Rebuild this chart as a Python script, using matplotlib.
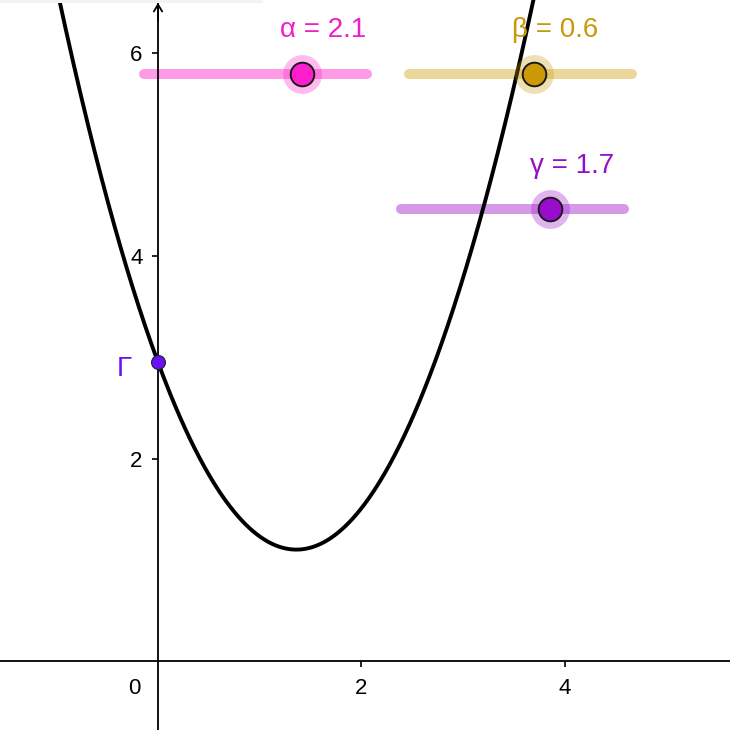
import matplotlib
matplotlib.use("Agg")
import matplotlib.pyplot as plt
from matplotlib.patches import Rectangle
import numpy as np

plt.rcParams['font.family'] = ['Liberation Sans', 'DejaVu Sans']

# parabola y = a*x^2 + b*x + c
curve_coeffs = [1.0, -2.72, 2.95]

# sliders: name, value, colours
slider_names = ['α', 'β', 'γ']
slider_values = [2.1, 0.6, 1.7]
slider_min, slider_max = -5, 5
slider_line_colors = ['#ff9be6', '#ecd79a', '#d49ae8']
slider_point_colors = ['#ff1ecb', '#cc9a06', '#9a0ccc']
slider_text_colors = ['#f01ec8', '#c9980b', '#9410c8']

point_name = 'Γ'
point_x = 0
point_y = 2.95

x_ticks = [2, 4]
y_ticks = [2, 4, 6]

# slider placement (layout, data units)
slider_x0 = [-0.14, 2.47, 2.39]
slider_len = 2.19
slider_y = [5.80, 5.80, 4.46]

fig = plt.figure(figsize=(7.3, 7.3), dpi=100)
ax = fig.add_axes([0, 0, 1, 1])
ax.set_xlim(-1.553, 5.622)
ax.set_ylim(-0.681, 6.528)

# faint toolbar shadow at the top
fig.patches.append(Rectangle((0, 0.996), 0.36, 0.004, transform=fig.transFigure,
                             color='#f3f3f3', lw=0, zorder=0))

# axes through origin
for side in ['top', 'right']:
    ax.spines[side].set_visible(False)
ax.spines['left'].set_position(('data', 0))
ax.spines['bottom'].set_position(('data', 0))
ax.spines['left'].set_linewidth(1.3)
ax.spines['bottom'].set_linewidth(1.3)
ax.set_xticks(x_ticks)
ax.set_yticks(y_ticks)
ax.tick_params(axis='both', direction='out', length=4.5, width=1.2, labelsize=16)
ax.tick_params(axis='x', pad=8)
ax.tick_params(axis='y', pad=6.5)
ax.text(-0.23, -0.27, '0', fontsize=16, ha='center', va='center')
ax.annotate('', xy=(0, 6.528), xytext=(0, 6.3),
            arrowprops=dict(arrowstyle='->,head_length=0.5,head_width=0.3', lw=1.3, color='black'))

# curve
xs = np.linspace(-1.6, 5.7, 600)
ys = np.polyval(curve_coeffs, xs)
ax.plot(xs, ys, color='black', lw=2.8, zorder=3, solid_capstyle='round')

# point Γ
ax.plot(point_x, point_y, 'o', ms=10, color='#6a10f5', mec='#222222', mew=0.8, zorder=5)
ax.text(point_x - 0.33, point_y - 0.07, point_name, color='#6a10f5',
        fontsize=20, ha='center', va='center')

# sliders
for i in range(len(slider_names)):
    x0 = slider_x0[i]
    x1 = x0 + slider_len
    y = slider_y[i]
    ax.plot([x0, x1], [y, y], color=slider_line_colors[i], lw=7.2,
            solid_capstyle='round', zorder=2)
    px = x0 + (slider_values[i] - slider_min) / (slider_max - slider_min) * slider_len
    ax.plot(px, y, 'o', ms=28, color=slider_point_colors[i], alpha=0.3, mew=0, zorder=4)
    ax.plot(px, y, 'o', ms=17, color=slider_point_colors[i], mec='#1a1a1a', mew=1.4, zorder=5)
    ax.text(px + 0.21, y + 0.43, f'{slider_names[i]} = {slider_values[i]}',
            color=slider_text_colors[i], fontsize=20, ha='center', va='center')

fig.savefig('out.png', dpi=100)
